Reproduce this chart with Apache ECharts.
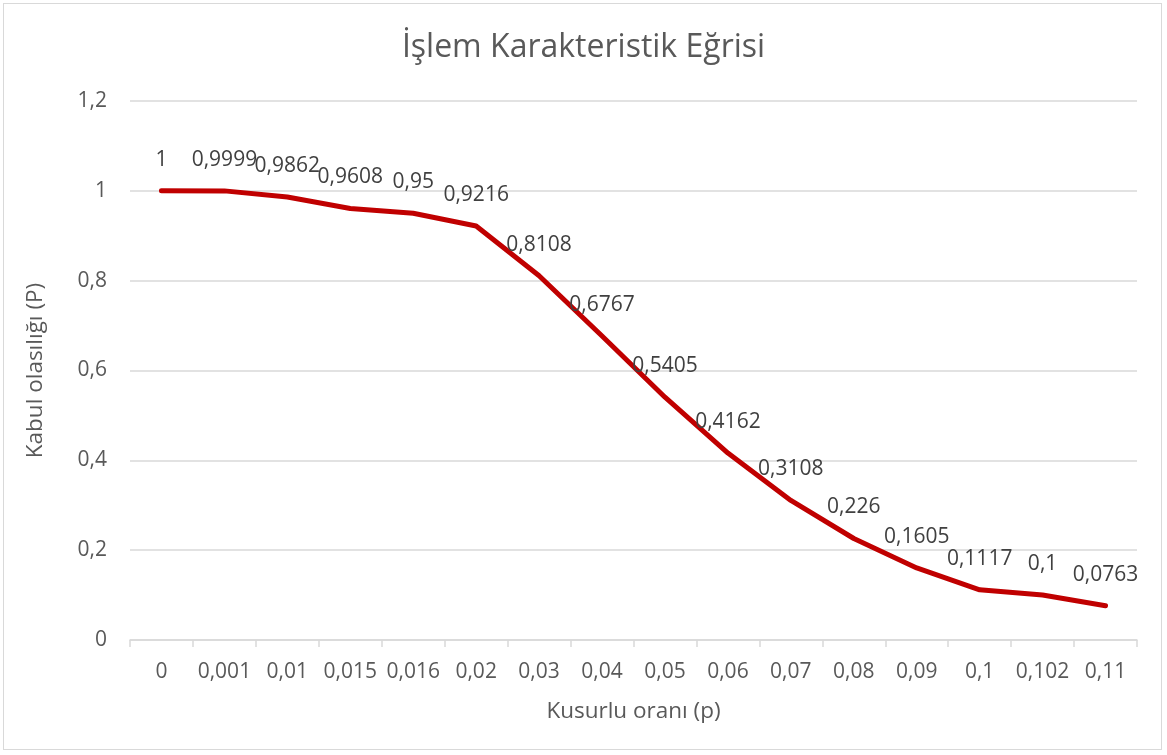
<!DOCTYPE html>
<html>
<head>
<meta charset="utf-8">
<script src="https://cdn.jsdelivr.net/npm/echarts@6/dist/echarts.min.js"></script>
<style>
html,body{margin:0;padding:0;background:#fff;}
#frame{position:absolute;left:3px;top:3px;width:1159px;height:747px;border:1.5px solid #d9d9d9;box-sizing:border-box;}
#chart{position:absolute;left:0;top:0;width:1167px;height:755px;}
</style>
</head>
<body>
<div id="frame"></div>
<div id="chart"></div>
<script>
var titleText = 'İşlem Karakteristik Eğrisi';
var xAxisName = 'Kusurlu oranı (p)';
var yAxisName = 'Kabul olasılığı (P)';
var categories = ['0','0,001','0,01','0,015','0,016','0,02','0,03','0,04','0,05','0,06','0,07','0,08','0,09','0,1','0,102','0,11'];
var acceptProb = [1,0.9999,0.9862,0.9608,0.95,0.9216,0.8108,0.6767,0.5405,0.4162,0.3108,0.226,0.1605,0.1117,0.1,0.0763];

var fmt = function(v){ return String(v).replace('.', ','); };
var font = '"Open Sans", sans-serif';
var chart = echarts.init(document.getElementById('chart'));
chart.setOption({
  backgroundColor: 'transparent',
  animation: false,
  title: {
    text: titleText, left: 'center', top: 27,
    textStyle: {fontFamily: font, fontSize: 32, fontWeight: 'normal', color: '#595959'}
  },
  grid: {left: 130, right: 30, top: 101, bottom: 115},
  xAxis: {
    type: 'category', data: categories, boundaryGap: true,
    name: xAxisName, nameLocation: 'middle', nameGap: 60,
    nameTextStyle: {fontFamily: font, fontSize: 22.5, color: '#595959'},
    axisLine: {lineStyle: {color: '#d9d9d9', width: 1.5}},
    axisTick: {show: true, alignWithLabel: false, length: 7, lineStyle: {color: '#d9d9d9', width: 1.5}},
    axisLabel: {fontFamily: font, fontSize: 21, color: '#595959', margin: 22, interval: 0}
  },
  yAxis: {
    type: 'value', min: 0, max: 1.2, interval: 0.2,
    name: yAxisName, nameLocation: 'middle', nameGap: 83, nameRotate: 90,
    nameTextStyle: {fontFamily: font, fontSize: 22.5, color: '#595959'},
    axisLine: {show: false}, axisTick: {show: false},
    splitLine: {lineStyle: {color: '#d9d9d9', width: 1.5}},
    axisLabel: {fontFamily: font, fontSize: 21, color: '#595959', margin: 23,
      formatter: function(v){ return fmt(Math.round(v*10)/10); }}
  },
  series: [{
    type: 'line', data: acceptProb, symbol: 'circle', symbolSize: 1, showSymbol: true,
    itemStyle: {color: 'rgba(0,0,0,0)'},
    lineStyle: {color: '#c00000', width: 5, cap: 'round', join: 'round'},
    label: {show: true, position: 'top', distance: 20, offset: [3, 0],
      fontFamily: font, fontSize: 21, color: '#404040',
      formatter: function(p){ return fmt(p.value); }},
    labelLayout: {hideOverlap: false}
  }]
});
</script>
</body>
</html>
